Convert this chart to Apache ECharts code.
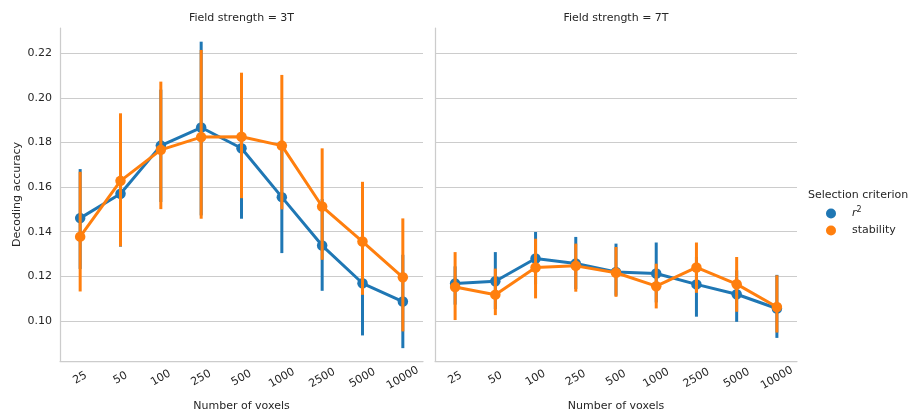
<!DOCTYPE html>
<html>
<head>
<meta charset="utf-8">
<script src="https://cdn.jsdelivr.net/npm/echarts@6/dist/echarts.min.js"></script>
<style>
  html, body { margin: 0; padding: 0; background: #ffffff; }
  #chart { width: 911px; height: 412px; }
</style>
</head>
<body>
<div id="chart"></div>
<script>
// Number of voxels (categorical x axis)
const voxels = ['25', '50', '100', '250', '500', '1000', '2500', '5000', '10000'];
const yTicks = [0.10, 0.12, 0.14, 0.16, 0.18, 0.20, 0.22];

// Field strength = 3T
const r2Mean3T   = [0.1461, 0.1570, 0.1786, 0.1867, 0.1774, 0.1555, 0.1338, 0.1169, 0.1087];
const r2Low3T    = [0.1240, 0.1340, 0.1540, 0.1480, 0.1465, 0.1311, 0.1142, 0.0942, 0.0885];
const r2High3T   = [0.1674, 0.1767, 0.2030, 0.2245, 0.2080, 0.1780, 0.1540, 0.1390, 0.1290];
const stabMean3T = [0.1378, 0.1628, 0.1767, 0.1824, 0.1826, 0.1786, 0.1513, 0.1356, 0.1196];
const stabLow3T  = [0.1139, 0.1341, 0.1508, 0.1465, 0.1557, 0.1507, 0.1281, 0.1124, 0.0960];
const stabHigh3T = [0.1662, 0.1924, 0.2066, 0.2208, 0.2106, 0.2096, 0.1767, 0.1617, 0.1453];

// Field strength = 7T
const r2Mean7T   = [0.1168, 0.1178, 0.1280, 0.1258, 0.1220, 0.1213, 0.1164, 0.1120, 0.1056];
const r2Low7T    = [0.1080, 0.1060, 0.1170, 0.1150, 0.1120, 0.1090, 0.1026, 0.1003, 0.0931];
const r2High7T   = [0.1238, 0.1302, 0.1392, 0.1370, 0.1340, 0.1345, 0.1280, 0.1220, 0.1200];
const stabMean7T = [0.1152, 0.1118, 0.1240, 0.1247, 0.1216, 0.1156, 0.1240, 0.1165, 0.1063];
const stabLow7T  = [0.1011, 0.1033, 0.1108, 0.1138, 0.1115, 0.1063, 0.1133, 0.1048, 0.0955];
const stabHigh7T = [0.1302, 0.1228, 0.1362, 0.1340, 0.1325, 0.1250, 0.1345, 0.1280, 0.1198];

const panelTitles = ['Field strength = 3T', 'Field strength = 7T'];
const hueNames = ['r2', 'stability'];

const BLUE = '#1f77b4';
const ORANGE = '#ff7f0e';
const TEXT = '#262626';
const GRID = '#cccccc';
const FONT = 'DejaVu Sans';

const panels = [
  { r2: [r2Mean3T, r2Low3T, r2High3T], stab: [stabMean3T, stabLow3T, stabHigh3T] },
  { r2: [r2Mean7T, r2Low7T, r2High7T], stab: [stabMean7T, stabLow7T, stabHigh7T] }
];

const grids = [
  { left: 60, top: 28, width: 363, height: 333, outerBoundsMode: 'none' },
  { left: 435, top: 28, width: 362, height: 333, outerBoundsMode: 'none' }
];

function errorBars(color) {
  return function (params, api) {
    const i = api.value(0);
    const lo = api.coord([i, api.value(1)]);
    const hi = api.coord([i, api.value(2)]);
    return {
      type: 'line',
      shape: { x1: lo[0], y1: lo[1], x2: hi[0], y2: hi[1] },
      style: { stroke: color, lineWidth: 3, lineCap: 'square' }
    };
  };
}

const xAxes = grids.map((g, p) => ({
  type: 'category',
  gridIndex: p,
  data: voxels,
  boundaryGap: true,
  axisLine: { show: true, lineStyle: { color: GRID, width: 1.25 } },
  axisTick: { show: false },
  splitLine: { show: false },
  axisLabel: {
    rotate: 30, align: 'center', verticalAlign: 'middle', margin: 17,
    color: TEXT, fontSize: 11, fontFamily: FONT, interval: 0
  },
  name: 'Number of voxels',
  nameLocation: 'middle',
  nameGap: 40,
  nameTextStyle: { color: TEXT, fontSize: 11, fontFamily: FONT }
}));

const yAxes = grids.map((g, p) => ({
  type: 'value',
  gridIndex: p,
  min: 0.08207,
  max: 0.2313,
  splitNumber: 7,
  minInterval: 0.02,
  maxInterval: 0.02,
  axisLine: { show: true, lineStyle: { color: GRID, width: 1.25 } },
  axisTick: { show: false },
  axisLabel: {
    show: p === 0,
    showMinLabel: false, showMaxLabel: false,
    margin: 8, color: TEXT, fontSize: 11, fontFamily: FONT,
    formatter: v => (yTicks.some(t => Math.abs(t - v) < 1e-6) ? v.toFixed(2) : '')
  },
  splitLine: {
    show: true, showMinLine: false, showMaxLine: false,
    lineStyle: { color: GRID, width: 1 }
  },
  name: p === 0 ? 'Decoding accuracy' : '',
  nameLocation: 'middle',
  nameGap: 37,
  nameTextStyle: { color: TEXT, fontSize: 11, fontFamily: FONT }
}));

const series = [];
panels.forEach((pd, p) => {
  [['r2', pd.r2, BLUE], ['stability', pd.stab, ORANGE]].forEach(([name, arr, color], h) => {
    const [mean, low, high] = arr;
    series.push({
      type: 'custom',
      name: name,
      xAxisIndex: p, yAxisIndex: p,
      z: 2 + h * 2,
      itemStyle: { color: color },
      renderItem: errorBars(color),
      encode: { x: 0, y: [1, 2] },
      data: voxels.map((v, i) => [i, low[i], high[i]]),
      silent: true
    });
    series.push({
      type: 'line',
      name: name,
      xAxisIndex: p, yAxisIndex: p,
      z: 3 + h * 2,
      data: mean,
      symbol: 'circle',
      symbolSize: 10.5,
      showSymbol: true,
      lineStyle: { color: color, width: 3 },
      itemStyle: { color: color },
      emphasis: { disabled: true }
    });
  });
});

const chart = echarts.init(document.getElementById('chart'), null, { renderer: 'canvas' });
chart.setOption({
  animation: false,
  backgroundColor: '#ffffff',
  textStyle: { fontFamily: FONT },
  grid: grids,
  xAxis: xAxes,
  yAxis: yAxes,
  legend: {
    data: hueNames,
    orient: 'vertical',
    left: 821,
    top: 201,
    itemWidth: 32,
    itemHeight: 10,
    itemGap: 6,
    icon: 'circle',
    selectedMode: false,
    formatter: n => (n === 'r2' ? '{i|r}{s|2}' : n),
    textStyle: {
      color: TEXT, fontSize: 11, fontFamily: FONT,
      rich: {
        i: { fontStyle: 'italic', fontSize: 11, fontFamily: FONT, color: TEXT },
        s: { fontSize: 8, fontFamily: FONT, color: TEXT, padding: [0, 0, 7, 0] }
      }
    }
  },
  graphic: [
    ...panelTitles.map((t, p) => ({
      type: 'text',
      x: grids[p].left + grids[p].width / 2,
      y: 18,
      style: { text: t, fill: TEXT, font: '11px "DejaVu Sans"', align: 'center', verticalAlign: 'middle' }
    })),
    {
      type: 'text',
      x: 808,
      y: 195,
      style: { text: 'Selection criterion', fill: TEXT, font: '11px "DejaVu Sans"', align: 'left', verticalAlign: 'middle' }
    }
  ],
  series: series
});
</script>
</body>
</html>
